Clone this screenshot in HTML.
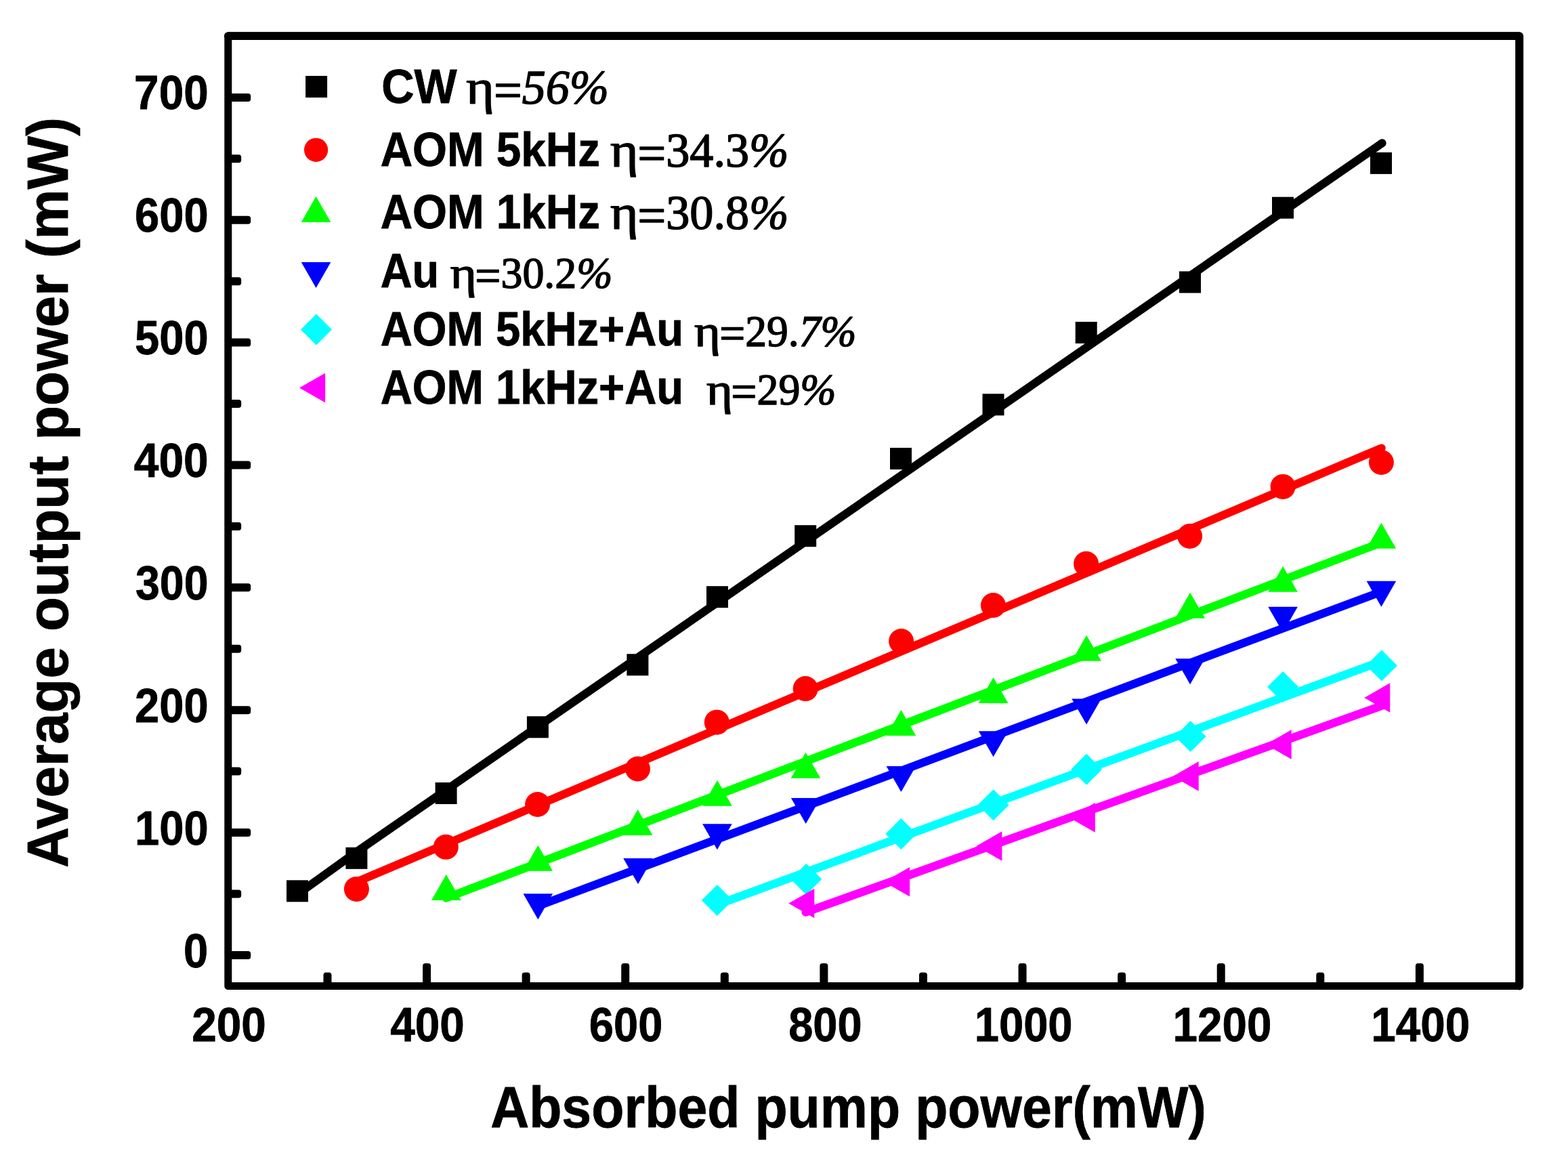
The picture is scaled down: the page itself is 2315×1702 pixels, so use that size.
<!DOCTYPE html>
<html lang="en">
<head>
<meta charset="utf-8">
<title>Average output power vs absorbed pump power</title>
<style>
html,body{margin:0;padding:0;background:#fff;}
body{width:2315px;height:1702px;}
svg{display:block;}
.sb{font-family:'Liberation Sans', Arial, Helvetica, sans-serif;font-weight:bold;stroke:#000;stroke-width:0.8px;stroke-linejoin:round;}
.sr{font-family:'Liberation Serif', 'Times New Roman', Times, serif;font-weight:normal;stroke:#000;stroke-width:1.5px;stroke-linejoin:round;}
</style>
</head>
<body>
<svg width="2315" height="1702" viewBox="0 0 2315 1702" role="img" aria-label="Average output power (mW) versus absorbed pump power (mW)">
<rect width="2315" height="1702" fill="#ffffff"/>
<g id="plot">
<g class="series-k">
<rect x="423.0" y="1299.3" width="32" height="32" fill="#000000"/>
<rect x="510.4" y="1250.8" width="32" height="32" fill="#000000"/>
<rect x="642.6" y="1155.0" width="32" height="32" fill="#000000"/>
<rect x="777.9" y="1057.3" width="32" height="32" fill="#000000"/>
<rect x="925.4" y="965.3" width="32" height="32" fill="#000000"/>
<rect x="1043.0" y="865.2" width="32" height="32" fill="#000000"/>
<rect x="1173.2" y="775.2" width="32" height="32" fill="#000000"/>
<rect x="1314.0" y="661.0" width="32" height="32" fill="#000000"/>
<rect x="1450.5" y="581.3" width="32" height="32" fill="#000000"/>
<rect x="1587.7" y="475.0" width="32" height="32" fill="#000000"/>
<rect x="1741.0" y="400.5" width="32" height="32" fill="#000000"/>
<rect x="1878.0" y="290.7" width="32" height="32" fill="#000000"/>
<rect x="2023.0" y="224.9" width="32" height="32" fill="#000000"/>
<polyline points="439.0,1320.3 526.4,1257.5 2040.5,211.3" fill="none" stroke="#000000" stroke-width="12.2" stroke-linecap="round" stroke-linejoin="round"/>
</g>
<g class="series-r">
<circle cx="526.4" cy="1312.4" r="18.5" fill="#ff0000"/>
<circle cx="658.3" cy="1250.3" r="18.5" fill="#ff0000"/>
<circle cx="793.6" cy="1187.5" r="18.5" fill="#ff0000"/>
<circle cx="941.5" cy="1135.0" r="18.5" fill="#ff0000"/>
<circle cx="1058.3" cy="1066.2" r="18.5" fill="#ff0000"/>
<circle cx="1189.2" cy="1016.6" r="18.5" fill="#ff0000"/>
<circle cx="1330.6" cy="946.5" r="18.5" fill="#ff0000"/>
<circle cx="1466.4" cy="893.5" r="18.5" fill="#ff0000"/>
<circle cx="1603.6" cy="832.3" r="18.5" fill="#ff0000"/>
<circle cx="1756.6" cy="791.5" r="18.5" fill="#ff0000"/>
<circle cx="1894.1" cy="718.4" r="18.5" fill="#ff0000"/>
<circle cx="2039.4" cy="682.5" r="18.5" fill="#ff0000"/>
<polyline points="526.4,1301.9 2039.6,661.5" fill="none" stroke="#ff0000" stroke-width="12.2" stroke-linecap="round" stroke-linejoin="round"/>
</g>
<g class="series-g">
<path d="M637.0 1329.1L680.6 1329.1L658.8 1291.1Z" fill="#00ff00"/>
<path d="M772.5 1285.8L816.1 1285.8L794.3 1247.8Z" fill="#00ff00"/>
<path d="M919.8 1232.9L963.4 1232.9L941.6 1194.9Z" fill="#00ff00"/>
<path d="M1037.2 1189.7L1080.8 1189.7L1059.0 1151.7Z" fill="#00ff00"/>
<path d="M1167.7 1148.8L1211.3 1148.8L1189.5 1110.8Z" fill="#00ff00"/>
<path d="M1308.6 1086.1L1352.2 1086.1L1330.4 1048.1Z" fill="#00ff00"/>
<path d="M1444.8 1038.0L1488.4 1038.0L1466.6 1000.0Z" fill="#00ff00"/>
<path d="M1582.3 975.7L1625.9 975.7L1604.1 937.7Z" fill="#00ff00"/>
<path d="M1735.3 912.7L1778.9 912.7L1757.1 874.7Z" fill="#00ff00"/>
<path d="M1872.3 873.7L1915.9 873.7L1894.1 835.7Z" fill="#00ff00"/>
<path d="M2017.6 809.7L2061.2 809.7L2039.4 771.7Z" fill="#00ff00"/>
<polyline points="658.8,1325.6 2039.4,801.0" fill="none" stroke="#00ff00" stroke-width="12.2" stroke-linecap="round" stroke-linejoin="round"/>
</g>
<g class="series-b">
<path d="M772.5 1319.3L816.1 1319.3L794.3 1357.3Z" fill="#0000ff"/>
<path d="M920.2 1266.9L963.8 1266.9L942.0 1304.9Z" fill="#0000ff"/>
<path d="M1037.1 1216.2L1080.7 1216.2L1058.9 1254.2Z" fill="#0000ff"/>
<path d="M1167.9 1178.0L1211.5 1178.0L1189.7 1216.0Z" fill="#0000ff"/>
<path d="M1308.6 1131.0L1352.2 1131.0L1330.4 1169.0Z" fill="#0000ff"/>
<path d="M1444.8 1079.2L1488.4 1079.2L1466.6 1117.2Z" fill="#0000ff"/>
<path d="M1582.3 1031.5L1625.9 1031.5L1604.1 1069.5Z" fill="#0000ff"/>
<path d="M1735.3 972.2L1778.9 972.2L1757.1 1010.2Z" fill="#0000ff"/>
<path d="M1872.3 895.8L1915.9 895.8L1894.1 933.8Z" fill="#0000ff"/>
<path d="M2017.6 857.8L2061.2 857.8L2039.4 895.8Z" fill="#0000ff"/>
<polyline points="794.3,1337.4 2039.5,873.4" fill="none" stroke="#0000ff" stroke-width="12.2" stroke-linecap="round" stroke-linejoin="round"/>
</g>
<g class="series-c">
<path d="M1035.9 1329.0L1058.9 1306.0L1081.9 1329.0L1058.9 1352.0Z" fill="#00ffff"/>
<path d="M1167.3 1297.7L1190.3 1274.7L1213.3 1297.7L1190.3 1320.7Z" fill="#00ffff"/>
<path d="M1307.4 1231.0L1330.4 1208.0L1353.4 1231.0L1330.4 1254.0Z" fill="#00ffff"/>
<path d="M1443.6 1188.3L1466.6 1165.3L1489.6 1188.3L1466.6 1211.3Z" fill="#00ffff"/>
<path d="M1581.1 1135.7L1604.1 1112.7L1627.1 1135.7L1604.1 1158.7Z" fill="#00ffff"/>
<path d="M1734.7 1087.1L1757.7 1064.1L1780.7 1087.1L1757.7 1110.1Z" fill="#00ffff"/>
<path d="M1871.1 1014.0L1894.1 991.0L1917.1 1014.0L1894.1 1037.0Z" fill="#00ffff"/>
<path d="M2016.9 982.4L2039.9 959.4L2062.9 982.4L2039.9 1005.4Z" fill="#00ffff"/>
<polyline points="1058.7,1335.5 2039.5,976.3" fill="none" stroke="#00ffff" stroke-width="12.2" stroke-linecap="round" stroke-linejoin="round"/>
</g>
<g class="series-m">
<path d="M1202.3 1311.7L1202.3 1355.3L1164.3 1333.5Z" fill="#ff00ff"/>
<path d="M1343.1 1279.9L1343.1 1323.5L1305.1 1301.7Z" fill="#ff00ff"/>
<path d="M1479.3 1227.2L1479.3 1270.8L1441.3 1249.0Z" fill="#ff00ff"/>
<path d="M1616.8 1185.1L1616.8 1228.7L1578.8 1206.9Z" fill="#ff00ff"/>
<path d="M1769.7 1124.1L1769.7 1167.7L1731.7 1145.9Z" fill="#ff00ff"/>
<path d="M1906.7 1077.2L1906.7 1120.8L1868.7 1099.0Z" fill="#ff00ff"/>
<path d="M2052.2 1008.2L2052.2 1051.8L2014.2 1030.0Z" fill="#ff00ff"/>
<polyline points="1189.6,1346.6 2040.0,1041.8" fill="none" stroke="#ff00ff" stroke-width="12.2" stroke-linecap="round" stroke-linejoin="round"/>
</g>
</g>
<g id="axes" stroke="#000" fill="none" stroke-linecap="round" stroke-linejoin="round">
<rect x="336.8" y="53.0" width="1906.2" height="1402.5" stroke-width="11.0"/>
<path d="M336.8 53.1H2243.3V1455.5" stroke-width="11.8"/>
</g>
<g id="ticks" fill="#000">
<rect x="336.8" y="1403.90" width="33.4" height="12.0" rx="4.0"/>
<rect x="336.8" y="1223.04" width="33.4" height="12.0" rx="4.0"/>
<rect x="336.8" y="1042.19" width="33.4" height="12.0" rx="4.0"/>
<rect x="336.8" y="861.33" width="33.4" height="12.0" rx="4.0"/>
<rect x="336.8" y="680.47" width="33.4" height="12.0" rx="4.0"/>
<rect x="336.8" y="499.62" width="33.4" height="12.0" rx="4.0"/>
<rect x="336.8" y="318.76" width="33.4" height="12.0" rx="4.0"/>
<rect x="336.8" y="137.90" width="33.4" height="12.0" rx="4.0"/>
<rect x="336.8" y="1313.47" width="19.4" height="12.0" rx="4.0"/>
<rect x="336.8" y="1132.61" width="19.4" height="12.0" rx="4.0"/>
<rect x="336.8" y="951.76" width="19.4" height="12.0" rx="4.0"/>
<rect x="336.8" y="770.90" width="19.4" height="12.0" rx="4.0"/>
<rect x="336.8" y="590.04" width="19.4" height="12.0" rx="4.0"/>
<rect x="336.8" y="409.19" width="19.4" height="12.0" rx="4.0"/>
<rect x="336.8" y="228.33" width="19.4" height="12.0" rx="4.0"/>
<rect x="624.06" y="1421.9" width="12.0" height="33.6" rx="4.0"/>
<rect x="917.22" y="1421.9" width="12.0" height="33.6" rx="4.0"/>
<rect x="1210.38" y="1421.9" width="12.0" height="33.6" rx="4.0"/>
<rect x="1503.54" y="1421.9" width="12.0" height="33.6" rx="4.0"/>
<rect x="1796.70" y="1421.9" width="12.0" height="33.6" rx="4.0"/>
<rect x="2089.86" y="1421.9" width="12.0" height="33.6" rx="4.0"/>
<rect x="477.48" y="1435.6" width="12.0" height="19.9" rx="4.0"/>
<rect x="770.64" y="1435.6" width="12.0" height="19.9" rx="4.0"/>
<rect x="1063.80" y="1435.6" width="12.0" height="19.9" rx="4.0"/>
<rect x="1356.96" y="1435.6" width="12.0" height="19.9" rx="4.0"/>
<rect x="1650.12" y="1435.6" width="12.0" height="19.9" rx="4.0"/>
<rect x="1943.28" y="1435.6" width="12.0" height="19.9" rx="4.0"/>
</g>
<g id="legend-markers">
<rect x="451.1" y="112.0" width="32" height="32" fill="#000000"/>
<circle cx="466.6" cy="221.3" r="17.6" fill="#ff0000"/>
<path d="M444.8 327.9L488.4 327.9L466.6 289.9Z" fill="#00ff00"/>
<path d="M444.8 387.1L488.4 387.1L466.6 425.1Z" fill="#0000ff"/>
<path d="M444.0 486.4L467.0 463.4L490.0 486.4L467.0 509.4Z" fill="#00ffff"/>
<path d="M480.1 550.7L480.1 594.3L442.1 572.5Z" fill="#ff00ff"/>
</g>
<g id="labels" fill="#000">
<text class="sb" font-size="70.6" transform="translate(198.11 160.50) scale(0.9304 1)" xml:space="preserve">700</text>
<text class="sb" font-size="70.6" transform="translate(199.06 341.54) scale(0.9221 1)" xml:space="preserve">600</text>
<text class="sb" font-size="70.6" transform="translate(199.06 522.58) scale(0.9221 1)" xml:space="preserve">500</text>
<text class="sb" font-size="70.6" transform="translate(197.87 703.62) scale(0.9325 1)" xml:space="preserve">400</text>
<text class="sb" font-size="70.6" transform="translate(199.99 884.66) scale(0.9140 1)" xml:space="preserve">300</text>
<text class="sb" font-size="70.6" transform="translate(199.06 1065.70) scale(0.9221 1)" xml:space="preserve">200</text>
<text class="sb" font-size="70.6" transform="translate(198.91 1246.74) scale(0.9234 1)" xml:space="preserve">100</text>
<text class="sb" font-size="70.6" transform="translate(270.95 1427.78) scale(0.9229 1)" xml:space="preserve">0</text>
<text class="sb" font-size="70.6" transform="translate(283.14 1537.00) scale(0.9310 1)" xml:space="preserve">200</text>
<text class="sb" font-size="70.6" transform="translate(576.17 1537.00) scale(0.9298 1)" xml:space="preserve">400</text>
<text class="sb" font-size="70.6" transform="translate(869.86 1537.00) scale(0.9212 1)" xml:space="preserve">600</text>
<text class="sb" font-size="70.6" transform="translate(1164.16 1537.00) scale(0.9212 1)" xml:space="preserve">800</text>
<text class="sb" font-size="70.6" transform="translate(1438.71 1537.00) scale(0.9225 1)" xml:space="preserve">1000</text>
<text class="sb" font-size="70.6" transform="translate(1731.59 1537.00) scale(0.9285 1)" xml:space="preserve">1200</text>
<text class="sb" font-size="70.6" transform="translate(2024.28 1537.00) scale(0.9291 1)" xml:space="preserve">1400</text>
<text class="sb" font-size="85" transform="translate(724.14 1664.40) scale(0.9286 1)" xml:space="preserve">Absorbed pump power(mW)</text>
<text class="sb" font-size="85" transform="translate(99.90 1280.96) rotate(-90) scale(0.9804 1)" xml:space="preserve">Average output power (mW)</text>
<text class="sb" font-size="71.0" transform="translate(563.32 151.60) scale(0.9414 1)" xml:space="preserve">CW</text>
<text class="sr" font-size="71.2" transform="translate(688.20 153.00) scale(0.9820 1)" xml:space="preserve"><tspan textLength="42.26" lengthAdjust="spacingAndGlyphs">η</tspan><tspan font-size="1.06em" dx="-0.66" dy="0.08em">=</tspan><tspan font-style="italic" dy="-0.085em">56%</tspan></text>
<text class="sb" font-size="71.0" transform="translate(561.68 245.10) scale(0.9236 1)" xml:space="preserve">AOM 5kHz</text>
<text class="sr" font-size="71.2" transform="translate(901.00 245.90) scale(0.9864 1)" xml:space="preserve"><tspan textLength="41.97" lengthAdjust="spacingAndGlyphs">η</tspan><tspan font-size="1.06em" dx="-1.17" dy="0.08em">=</tspan><tspan dy="-0.085em">34.3</tspan><tspan font-style="italic">%</tspan></text>
<text class="sb" font-size="71.0" transform="translate(561.68 337.00) scale(0.9236 1)" xml:space="preserve">AOM 1kHz</text>
<text class="sr" font-size="71.2" transform="translate(901.00 337.80) scale(0.9864 1)" xml:space="preserve"><tspan textLength="41.97" lengthAdjust="spacingAndGlyphs">η</tspan><tspan font-size="1.06em" dx="-1.17" dy="0.08em">=</tspan><tspan dy="-0.085em">30.8</tspan><tspan font-style="italic">%</tspan></text>
<text class="sb" font-size="71.0" transform="translate(561.69 424.20) scale(0.9135 1)" xml:space="preserve">Au</text>
<text class="sr" font-size="65.3" transform="translate(664.80 425.00) scale(0.9787 1)" xml:space="preserve"><tspan textLength="39.73" lengthAdjust="spacingAndGlyphs">η</tspan><tspan font-size="1.06em" dx="-2.47" dy="0.08em">=</tspan><tspan dy="-0.085em">30.2</tspan><tspan font-style="italic">%</tspan></text>
<text class="sb" font-size="71.0" transform="translate(561.68 510.10) scale(0.9185 1)" xml:space="preserve">AOM 5kHz+Au</text>
<text class="sr" font-size="65.3" transform="translate(1024.90 510.90) scale(0.9738 1)" xml:space="preserve"><tspan textLength="39.71" lengthAdjust="spacingAndGlyphs">η</tspan><tspan font-size="1.06em" dx="-1.32" dy="0.08em">=</tspan><tspan dy="-0.085em">29.</tspan><tspan font-style="italic">7%</tspan></text>
<text class="sb" font-size="71.0" transform="translate(561.68 596.10) scale(0.9185 1)" xml:space="preserve">AOM 1kHz+Au</text>
<text class="sr" font-size="65.3" transform="translate(1043.00 596.90) scale(0.9784 1)" xml:space="preserve"><tspan textLength="39.52" lengthAdjust="spacingAndGlyphs">η</tspan><tspan font-size="1.06em" dx="-2.45" dy="0.08em">=</tspan><tspan dy="-0.085em">29</tspan><tspan font-style="italic">%</tspan></text>
</g>
</svg>
</body>
</html>
